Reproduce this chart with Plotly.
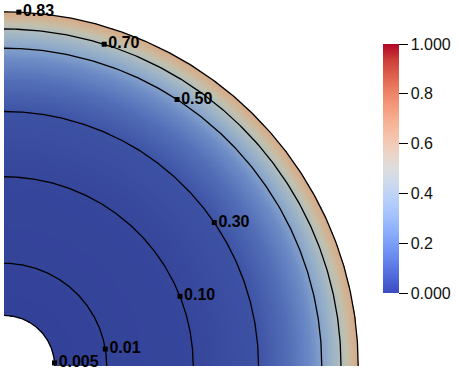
import numpy as np
import plotly.graph_objects as go

# contour levels, their radius (inner radius = 1, outer = 7) and label angle (deg)
LEVELS = [0.005, 0.01, 0.10, 0.30, 0.50, 0.70, 0.83]
LEVEL_LABELS = ["0.005", "0.01", "0.10", "0.30", "0.50", "0.70", "0.83"]
LEVEL_R = [1.0, 2.03, 3.74, 5.03, 6.28, 6.66, 7.0]
LABEL_ANGLE = [3.5, 9.5, 21.6, 34.3, 57.0, 72.7, 87.6]

# colour of the shaded field along the radius (as seen on the picture)
COLOR_R = [1.0, 3.7, 5.0, 5.65, 6.05, 6.28, 6.54, 6.68, 6.84, 7.0]
COLOR_V = [0.0, 0.01, 0.04, 0.12, 0.20, 0.28, 0.38, 0.45, 0.56, 0.64]

R_IN, R_OUT = 1.0, 7.0

# ParaView "Cool to Warm"
CW_POS = [0.0, 0.0625, 0.125, 0.1875, 0.25, 0.3125, 0.375, 0.4375, 0.5,
          0.5625, 0.625, 0.6875, 0.75, 0.8125, 0.875, 0.9375, 1.0]
CW_RGB = [(59, 76, 192), (77, 104, 215), (98, 130, 234), (119, 154, 247),
          (141, 176, 254), (163, 194, 255), (184, 208, 249), (204, 217, 238),
          (221, 221, 221), (236, 211, 197), (245, 196, 173), (247, 177, 148),
          (244, 154, 123), (236, 127, 99), (222, 96, 77), (203, 62, 56), (180, 4, 38)]

TICKS = [0, 0.2, 0.4, 0.6, 0.8, 1.0]
TICK_TEXT = ["0.000", "0.2", "0.4", "0.6", "0.8", "1.000"]

def scale(dim):
    return [[p, "rgb(%d,%d,%d)" % tuple(int(round(c * d)) for c, d in zip(rgb, dim))]
            for p, rgb in zip(CW_POS, CW_RGB)]

# pixel geometry
W, H = 458, 373
ML, MB = 4, 7
PX = 50.6  # px per unit
pw, ph = W - ML, H - MB

n = 420
gx = np.linspace(0, R_OUT + 0.05, n)
gy = np.linspace(0, R_OUT + 0.05, n)
X, Y = np.meshgrid(gx, gy)
R = np.hypot(X, Y)
Z = np.interp(R, COLOR_R, COLOR_V)
Z = np.round(Z, 3)
Z[(R < R_IN) | (R > R_OUT)] = np.nan

fig = go.Figure()
fig.add_trace(go.Heatmap(x=gx, y=gy, z=Z, zmin=0, zmax=1,
                         colorscale=scale((0.87, 0.87, 0.79)),
                         showscale=False, hoverinfo="skip"))

t = np.linspace(0, np.pi / 2, 240)
for r in LEVEL_R:
    fig.add_trace(go.Scatter(x=r * np.cos(t), y=r * np.sin(t), mode="lines",
                             line=dict(color="black", width=1.3),
                             showlegend=False, hoverinfo="skip"))

a = np.radians(LABEL_ANGLE)
lr = np.array(LEVEL_R)
fig.add_trace(go.Scatter(x=lr * np.cos(a), y=lr * np.sin(a), mode="markers+text",
                         text=LEVEL_LABELS, textposition="middle right",
                         marker=dict(symbol="square", size=5, color="black"),
                         textfont=dict(family="Liberation Sans, Arial", size=16,
                                       color="black", weight="bold"),
                         showlegend=False, hoverinfo="skip", cliponaxis=False))

# colour legend
fig.add_trace(go.Scatter(x=[-5, -5], y=[-5, -5], mode="markers",
                         marker=dict(color=[0, 1], cmin=0, cmax=1, colorscale=scale((1, 1, 1)),
                                     showscale=True,
                                     colorbar=dict(thickness=16, len=249, lenmode="pixels",
                                                   x=(383 - ML) / pw, xanchor="left",
                                                   y=(H - 168.5 - MB) / ph, yanchor="middle",
                                                   outlinewidth=0, xpad=0, ypad=0,
                                                   tickvals=TICKS, ticktext=TICK_TEXT,
                                                   ticks="outside", ticklen=9, tickwidth=1.2,
                                                   tickcolor="black",
                                                   tickfont=dict(family="Liberation Sans, Arial",
                                                                 size=16, color="#111"))),
                         showlegend=False, hoverinfo="skip"))

fig.update_xaxes(range=[0, pw / PX], visible=False, fixedrange=True)
fig.update_yaxes(range=[0, ph / PX], visible=False, fixedrange=True)
fig.update_layout(width=W, height=H,
                  margin=dict(l=ML, r=0, t=0, b=MB, autoexpand=False),
                  paper_bgcolor="white", plot_bgcolor="white")

fig.write_html("out.html", config={"displayModeBar": False},
               post_script="document.body.style.margin='0';")
